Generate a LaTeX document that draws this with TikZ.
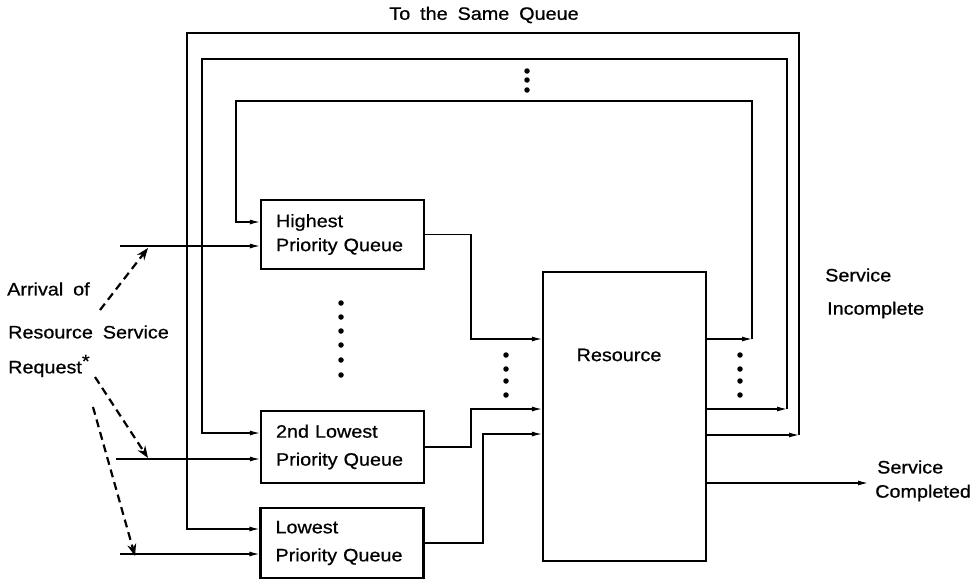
\documentclass[tikz,border=0pt]{standalone}
\usepackage{fontspec}
\setmainfont[FakeStretch=1.1,WordSpace=1.8,FakeBold=0.7]{Liberation Sans}
\usetikzlibrary{arrows.meta}
\begin{document}
\begin{tikzpicture}[x=1pt,y=-1pt,
  lbl/.style={font=\fontsize{18}{24}\selectfont, inner sep=0pt, anchor=west},
  qbox/.style={draw, line width=2.2pt, text width=133pt, align=left, inner xsep=15pt, inner ysep=0pt},
  arr/.style={line width=1.2pt, -{Latex[length=10pt,width=5pt]}},
  darr/.style={line width=2.2pt, dash pattern=on 8pt off 5pt, -{Stealth[length=12pt,width=9pt]}},
  bigdot/.style={circle, fill, inner sep=0pt, minimum size=5.5pt}
]
\useasboundingbox (0,0) rectangle (976,584);

% boxes
\node[qbox, minimum height=69pt, font=\fontsize{18}{24}\selectfont] (hq) at (342.5,234.5) {Highest\\Priority Queue};
\node[qbox, minimum height=72pt, font=\fontsize{18}{28}\selectfont] (sq) at (342.5,447) {2nd Lowest\\Priority Queue};
\node[qbox, minimum height=70pt, font=\fontsize{18}{28}\selectfont] (lq) at (342,543) {Lowest\\Priority Queue};
\node[draw, line width=2.2pt, minimum width=163pt, minimum height=289pt, inner sep=0pt] (res) at (624.5,416.5) {};
\node[font=\fontsize{18}{24}\selectfont, inner sep=0pt] (reslbl) at (619,355) {Resource};

% labels
\node[font=\fontsize{18}{24}\selectfont, inner sep=0pt] (top) at (484,15) {To the Same Queue};
\node[lbl] (arrv) at (7,289) {Arrival of};
\node[lbl] (rsrv) at (8,332) {Resource Service};
\node[lbl] (rqst) at (8,366) {Request\raisebox{6pt}{*}};
\node[lbl] (si1) at (825,275) {Service};
\node[lbl] (si2) at (827,310) {Incomplete};
\node[lbl] (sc1) at (877,467) {Service};
\node[lbl] (sc2) at (875,493) {Completed};

% feedback loops
\coordinate (i1) at (752,339);
\coordinate (i2) at (752,101);
\coordinate (i3) at (236,101);
\coordinate (i4) at (236,222);
\draw[arr] (res.east |- i1) -- (i1);
\draw[arr] (i1) -- (i2) -- (i3) -- (i4) -- (hq.west |- i4);

\coordinate (m1) at (787,409);
\coordinate (m2) at (787,59);
\coordinate (m3) at (202,59);
\coordinate (m4) at (202,433);
\draw[arr] (res.east |- m1) -- (m1);
\draw[arr] (m1) -- (m2) -- (m3) -- (m4) -- (sq.west |- m4);

\coordinate (o1) at (799,435);
\coordinate (o2) at (799,33);
\coordinate (o3) at (187,33);
\coordinate (o4) at (187,529);
\draw[arr] (res.east |- o1) -- (o1);
\draw[arr] (o1) -- (o2) -- (o3) -- (o4) -- (lq.west |- o4);

% queue outputs to resource
\coordinate (h1) at (471,234.5);
\coordinate (h2) at (471,339);
\draw[arr] (hq.east) -- (h1) -- (h2) -- (res.west |- h2);
\coordinate (s1) at (471,447);
\coordinate (s2) at (471,409);
\draw[arr] (sq.east) -- (s1) -- (s2) -- (res.west |- s2);
\coordinate (l1) at (483,543);
\coordinate (l2) at (483,434);
\draw[arr] (lq.east) -- (l1) -- (l2) -- (res.west |- l2);

% service completed
\coordinate (sc) at (868,483);
\draw[arr] (res.east |- sc) -- (sc);

% arrivals
\coordinate (in1) at (120,246);
\coordinate (in2) at (116,459);
\coordinate (in3) at (120,554);
\draw[arr] (in1) -- (hq.west |- in1);
\draw[arr] (in2) -- (sq.west |- in2);
\draw[arr] (in3) -- (lq.west |- in3);

\coordinate (d1s) at (100,310);
\coordinate (d1e) at (148,248);
\coordinate (d2s) at (95,377);
\coordinate (d2e) at (148,458);
\coordinate (d3s) at (93,407);
\coordinate (d3e) at (135,556);
\draw[darr] (d1s) -- (d1e);
\draw[darr] (d2s) -- (d2e);
\draw[darr] (d3s) -- (d3e);

% dots
\foreach \y [count=\k] in {355,369,381,395} {
  \node[bigdot] (ld\k) at (506,\y) {};
  \node[bigdot] (rd\k) at (740,\y) {};
}
\foreach \y [count=\k] in {71,80,90} {
  \node[bigdot] (td\k) at (527,\y) {};
}
\foreach \y [count=\k] in {303,317,331,345,360,375} {
  \node[bigdot] (md\k) at (341,\y) {};
}
\end{tikzpicture}
\end{document}
